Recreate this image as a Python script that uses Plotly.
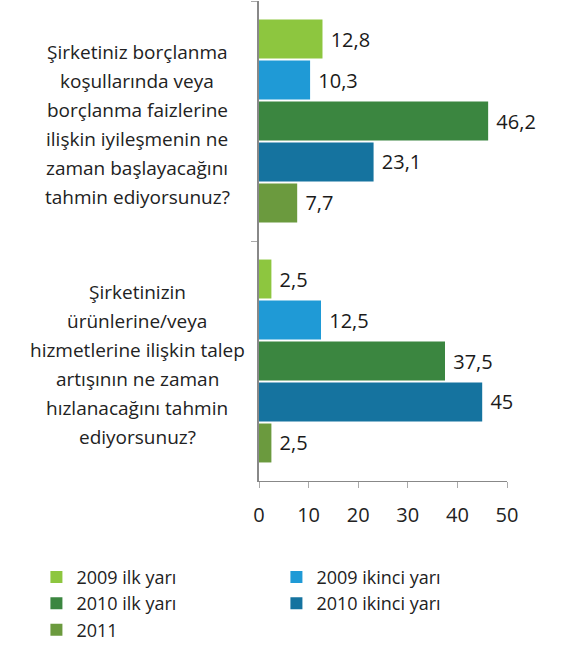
import plotly.graph_objects as go

categories = ["q1", "q2"]
cat_lines = [
    ["Şirketiniz borçlanma", "koşullarında veya", "borçlanma faizlerine",
     "ilişkin iyileşmenin ne", "zaman başlayacağını", "tahmin ediyorsunuz?"],
    ["Şirketinizin", "ürünlerine/veya", "hizmetlerine ilişkin talep",
     "artışının ne zaman", "hızlanacağını tahmin", "ediyorsunuz?"],
]
series_names = ["2009 ilk yarı", "2009 ikinci yarı", "2010 ilk yarı", "2010 ikinci yarı", "2011"]
series_values = [
    [12.8, 2.5],
    [10.3, 12.5],
    [46.2, 37.5],
    [23.1, 45],
    [7.7, 2.5],
]
colors = ["#8dc63f", "#1f9ad6", "#3b8640", "#15739f", "#6b9a3e"]
x_ticks = [0, 10, 20, 30, 40, 50]

FONT = "Open Sans"
fig = go.Figure()
for name, vals, c in zip(series_names, series_values, colors):
    fig.add_trace(go.Bar(
        y=categories, x=vals, name=name, orientation="h",
        marker=dict(color=c, line=dict(width=0)),
        text=vals, texttemplate=" %{x}", textposition="outside",
        textfont=dict(size=20, color="#1a1a1a", family=FONT),
        cliponaxis=False,
    ))

annotations = []
line_h = 29
for i, lines in enumerate(cat_lines):
    n = len(lines)
    for j, ln in enumerate(lines):
        annotations.append(dict(
            text=ln, xref="paper", yref="y", x=-0.49, y=i,
            xanchor="center", yanchor="middle", showarrow=False,
            yshift=-((j - (n - 1) / 2) * line_h) - 3,
            font=dict(size=19, color="#222222", family=FONT),
        ))

fig.update_layout(
    width=565, height=651,
    margin=dict(l=259, r=58, t=1, b=170, autoexpand=False),
    paper_bgcolor="white", plot_bgcolor="white",
    separators=",.",
    barmode="group", bargap=0.146, bargroupgap=0.05,
    font=dict(family=FONT, size=18, color="#222222"),
    showlegend=True,
    legend=dict(
        orientation="h", x=-0.8975, xanchor="left", y=-0.162, yanchor="top",
        entrywidth=195, entrywidthmode="pixels",
        font=dict(size=18, color="#222222", family=FONT),
        traceorder="normal", itemclick=False,
    ),
    annotations=annotations,
    xaxis=dict(
        range=[0, 50], tickvals=x_ticks, showgrid=False, zeroline=False,
        showline=True, linecolor="#888888", linewidth=1,
        ticks="outside", ticklen=6, tickcolor="#aaaaaa",
        ticklabelstandoff=10,
        tickfont=dict(size=20, color="#222222", family=FONT),
    ),
    yaxis=dict(
        range=[1.5, -0.5], showticklabels=False, showgrid=False,
        showline=True, linecolor="#888888", linewidth=1.5,
        ticks="outside", ticklen=6, tickcolor="#aaaaaa", tickson="boundaries",
    ),
)
fig.write_html("out.html", config={"displayModeBar": False},
               post_script="document.body.style.margin='0';")
